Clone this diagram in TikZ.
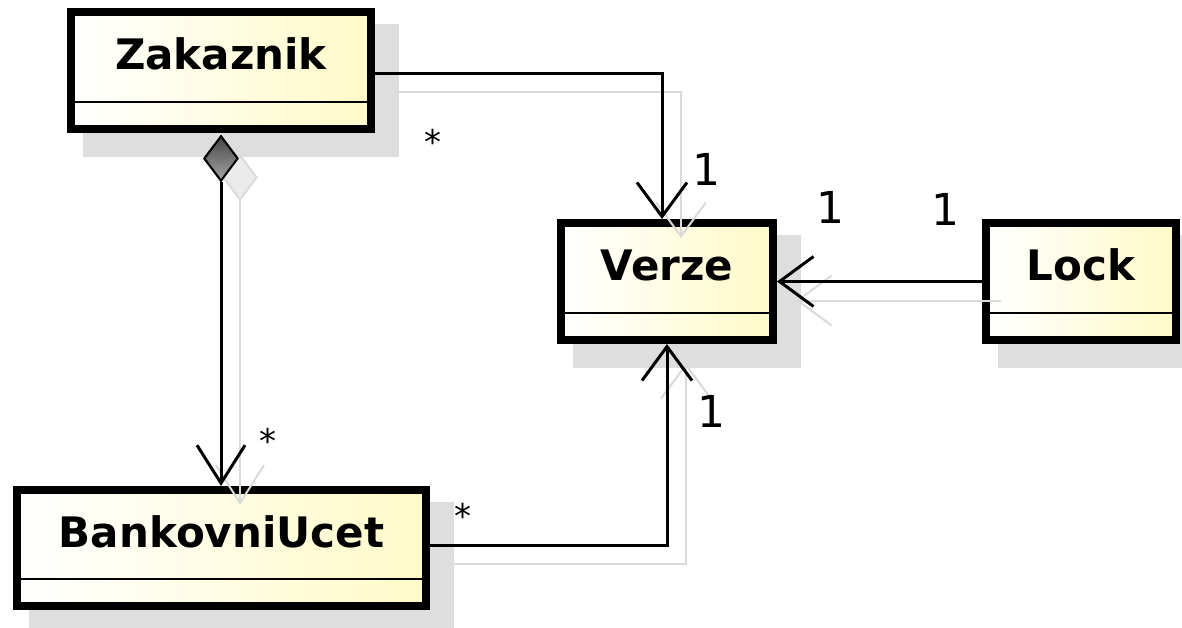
\documentclass[tikz,border=0pt]{standalone}
\usepackage{fontspec}
\setmainfont{DejaVu Sans}
\usetikzlibrary{arrows.meta,shapes.geometric,calc}

\definecolor{boxshade}{RGB}{222,222,222}
\definecolor{lineshade}{RGB}{218,218,218}
\definecolor{classyellow}{RGB}{255,250,200}
\definecolor{diamonddark}{RGB}{70,70,70}
\definecolor{diamondlight}{RGB}{165,165,165}

\pgfdeclarelayer{bg}
\pgfsetlayers{bg,main}

\tikzset{
  classbox/.style={draw=black, line width=8pt, inner sep=0pt,
    left color=white, right color=classyellow},
  classname/.style={font=\fontsize{42}{42}\selectfont\bfseries, inner sep=0pt},
  compartment/.style={draw=black, line width=2.5pt},
  mult/.style={font=\fontsize{44}{44}\selectfont, inner sep=0pt, anchor=base},
  star/.style={font=\fontsize{34}{34}\selectfont, inner sep=0pt},
  assoc/.style={draw=black, line width=3pt,
    -{Straight Barb[length=34pt, width=50pt]}},
  assocshade/.style={draw=lineshade, line width=2pt,
    -{Straight Barb[length=34pt, width=50pt]}},
  compline/.style={draw=black, line width=3pt,
    -{Straight Barb[length=38pt, width=48pt]}},
  compshade/.style={draw=lineshade, line width=2pt,
    -{Straight Barb[length=38pt, width=48pt]}},
  aggdiamond/.style={diamond, draw=black, line width=2pt, inner sep=0pt,
    minimum width=34pt, minimum height=45pt,
    top color=diamonddark, bottom color=diamondlight},
  aggshade/.style={diamond, draw=lineshade, line width=2pt, inner sep=0pt,
    minimum width=34pt, minimum height=45pt, fill=black!8},
  shadeoffset/.style={transform canvas={shift={(19pt,-19pt)}}}
}

% class box: name, centre, width, height, title
\newcommand\umlclass[5]{%
  \node[classbox, minimum width=#3pt, minimum height=#4pt] (#1) at #2 {};
  \node[classname] (#1-title) at ([yshift=-46pt]#1.north) {#5};
  \draw[compartment] ([yshift=31pt]#1.south west) -- ([yshift=31pt]#1.south east);
  \begin{pgfonlayer}{bg}
    \fill[boxshade] ([shift={(16pt,-16pt)}]#1.north west)
      rectangle ([shift={(24pt,-24pt)}]#1.south east);
  \end{pgfonlayer}
}

\begin{document}
\begin{tikzpicture}[x=1pt, y=-1pt]
  \useasboundingbox (0,0) rectangle (1182,627);

  % classes
  \umlclass{zak}{(221,70.5)}{300}{117}{Zakaznik}
  \umlclass{verze}{(667,281.5)}{212}{117}{Verze}
  \umlclass{lock}{(1081,281.5)}{190}{117}{Lock}
  \umlclass{bank}{(221.5,548)}{409}{116}{BankovniUcet}

  % composition diamond under Zakaznik
  \node[aggdiamond, anchor=north] (dia) at ([yshift=-2pt]zak.south) {};

  % connector shadows
  \begin{scope}[shadeoffset]
    \node[aggshade] (dia-shade) at (dia.center) {};
    \draw[assocshade] ([yshift=-2.5pt]zak.east) -| ([xshift=-5pt]verze.north);
    \draw[compshade] (dia.south) -- (dia.south |- bank.north);
    \draw[assocshade] ([yshift=3pt]bank.east) -| (verze.south);
    \draw[assocshade] (lock.west) -- (verze.east);
  \end{scope}

  % connectors
  \draw[assoc] ([yshift=-2.5pt]zak.east) -| ([xshift=-5pt]verze.north);
  \draw[compline] (dia.south) -- (dia.south |- bank.north);
  \draw[assoc] ([yshift=3pt]bank.east) -| (verze.south);
  \draw[assoc] (lock.west) -- (verze.east);
  \node[aggdiamond] (dia-top) at (dia.center) {};

  % multiplicities
  \node[star] (m-zak) at (433,142) {*};
  \node[mult] (m-verze-zak) at (706,185) {1};
  \node[mult] (m-verze-lock) at (830,223) {1};
  \node[mult] (m-lock) at (945,225) {1};
  \node[star] (m-bank-zak) at (268,441) {*};
  \node[star] (m-bank) at (463,516) {*};
  \node[mult] (m-verze-bank) at (711,427) {1};
\end{tikzpicture}
\end{document}
